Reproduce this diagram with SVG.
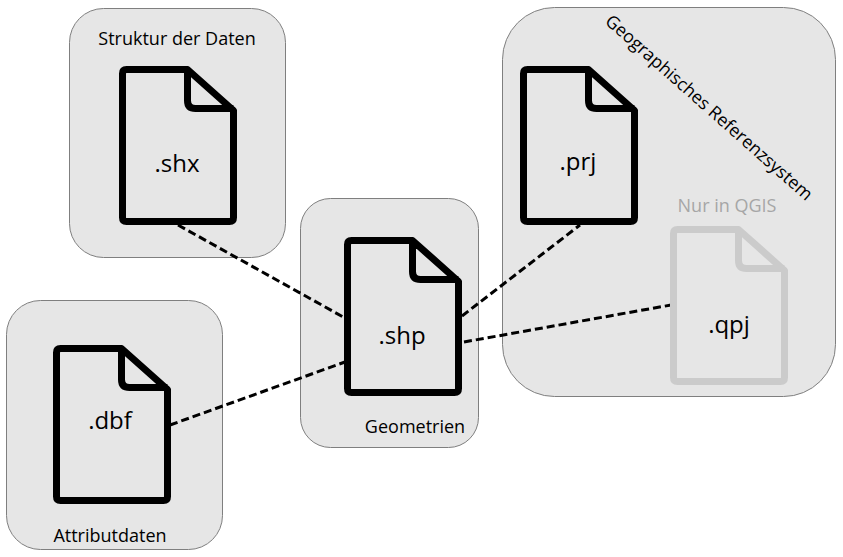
<svg xmlns="http://www.w3.org/2000/svg" width="843" height="557" viewBox="0 0 843 557">
<defs>
<style>
.box{fill:#e6e6e6;stroke:#7f7f7f;stroke-width:1}
.file{fill:none;stroke:#000;stroke-width:7;stroke-linejoin:round}
.q{stroke:#cbcbcb}
.ext{font-family:"Open Sans","Noto Sans",sans-serif;font-size:24px;fill:#000;text-anchor:middle}
.lab{font-family:"Open Sans","Noto Sans",sans-serif;font-size:18px;fill:#000;text-anchor:middle}
.c{fill:none;stroke:#000;stroke-width:3;stroke-dasharray:8 4}
</style>
<g id="f"><path d="M4 0H65L111 41V148Q111 152 107 152H4Q0 152 0 148V4Q0 0 4 0Z M65 0V31Q65 39 73 39H111"/></g>
</defs>
<rect width="843" height="557" fill="#fff"/>
<g id="box-struktur"><rect class="box" x="69.500" y="8.500" width="216" height="249" rx="34"/><text class="lab" x="177" y="45">Struktur der Daten</text></g>
<g id="box-attribut"><rect class="box" x="6.500" y="300.500" width="216" height="249" rx="34"/><text class="lab" x="110" y="542">Attributdaten</text></g>
<g id="box-geometrien"><rect class="box" x="300.500" y="198.500" width="178" height="249" rx="30"/><text class="lab" x="415" y="433">Geometrien</text></g>
<g id="box-referenz"><rect class="box" x="502.500" y="7.500" width="333" height="389" rx="52"/><text class="lab" style="font-size:17.800px" transform="translate(705 112) rotate(41.500)">Geographisches Referenzsystem</text></g>
<g id="connectors">
<path class="c" d="M178 225L345 318"/><path class="c" d="M170 425L345 362"/><path class="c" d="M462 316L580 225"/><path class="c" d="M464 342L671 305"/>
</g>
<g id="node-shx"><use href="#f" class="file" x="122.500" y="69.500"/><text class="ext" x="177" y="172">.shx</text></g>
<g id="node-dbf"><use href="#f" class="file" x="56.500" y="348.500"/><text class="ext" x="110" y="429">.dbf</text></g>
<g id="node-shp"><use href="#f" class="file" x="347.500" y="240.500"/><text class="ext" x="402" y="344">.shp</text></g>
<g id="node-prj"><use href="#f" class="file" x="523.500" y="69.500"/><text class="ext" x="578" y="170">.prj</text></g>
<g id="node-qpj"><use href="#f" class="file q" x="673.500" y="229.500"/><text class="ext" x="729" y="333">.qpj</text><text class="lab" x="727" y="212" style="fill:#a6a6a6">Nur in QGIS</text></g>
</svg>
